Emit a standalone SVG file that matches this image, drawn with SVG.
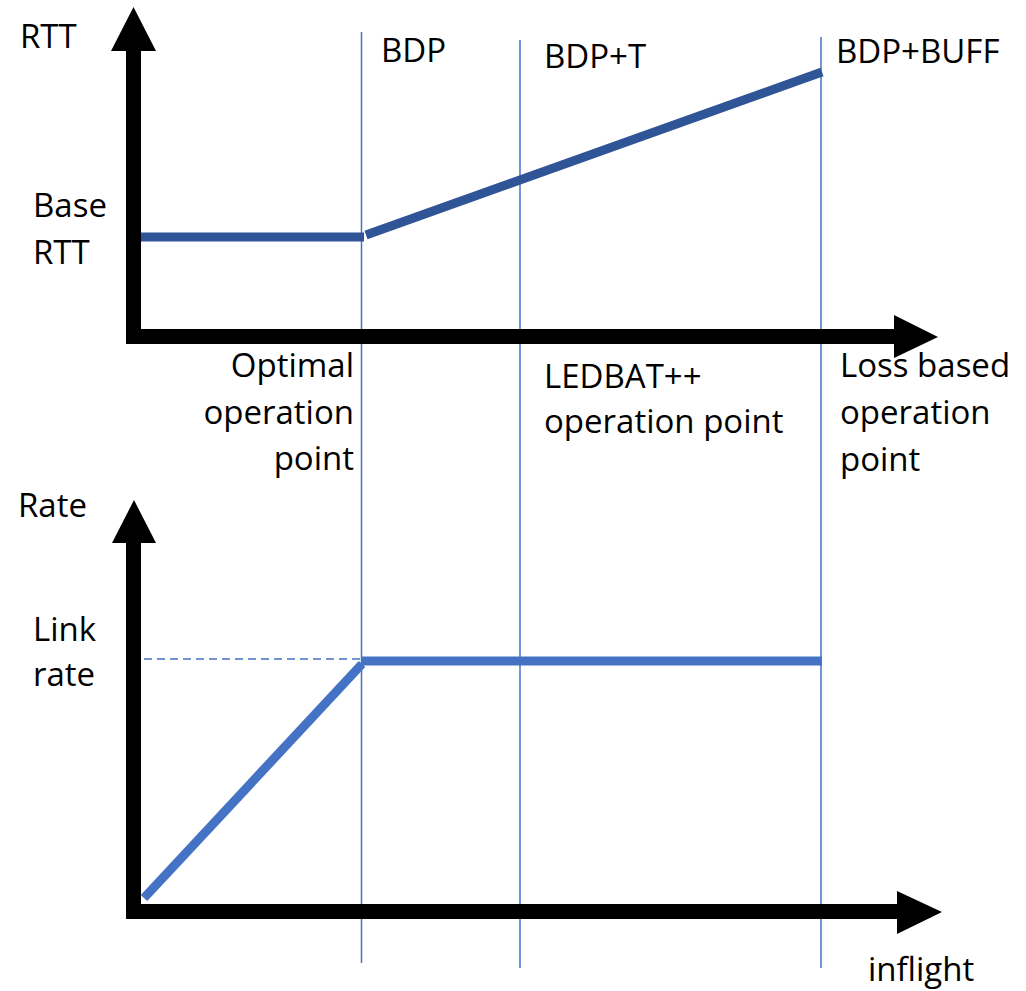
<svg xmlns="http://www.w3.org/2000/svg" width="1026" height="991" viewBox="0 0 1026 991">
<style>
.t{font-family:"Open Sans","Liberation Sans",sans-serif;font-size:33px;fill:#000}
.e{text-anchor:end}
.axis{fill:#000}
.guide{stroke:#4472C4;stroke-width:1.5;fill:none}
.rtt{stroke:#2F5597;stroke-width:9;fill:none}
.rate{stroke:#4472C4;stroke-width:9;fill:none}
</style>
<rect width="1026" height="991" fill="#fff"/>
<g id="guides">
<line class="guide" x1="361.5" y1="32" x2="361.5" y2="963"/>
<line class="guide" x1="520" y1="40" x2="520" y2="968"/>
<line class="guide" x1="821" y1="37" x2="821" y2="968"/>
</g>
<g id="top-axes">
<rect class="axis" x="126" y="50" width="15" height="294"/>
<polygon class="axis" points="133.5,7 156,51 111,51"/>
<rect class="axis" x="126" y="329" width="769" height="15"/>
<polygon class="axis" points="938,337 894,315 894,358"/>
</g>
<g id="bottom-axes">
<rect class="axis" x="126" y="542" width="15" height="377"/>
<polygon class="axis" points="134,500 156,543 112,543"/>
<rect class="axis" x="126" y="904" width="772" height="15"/>
<polygon class="axis" points="942,912 897,891 897,934"/>
</g>
<g id="connectors">
<line class="rtt" x1="141" y1="237" x2="364" y2="237"/>
<line class="rtt" x1="366" y1="235" x2="822" y2="72"/>
<line stroke="#4472C4" stroke-width="1.5" stroke-dasharray="8,5" x1="144" y1="659" x2="360" y2="659"/>
<line class="rate" x1="144" y1="898" x2="362" y2="664"/>
<line class="rate" x1="362" y1="661" x2="822" y2="661"/>
</g>
<g id="labels">
<text class="t" x="20" y="48">RTT</text>
<text class="t" x="33" y="217">Base</text>
<text class="t" x="33" y="264">RTT</text>
<text class="t" x="381" y="62">BDP</text>
<text class="t" x="544" y="68">BDP+T</text>
<text class="t" x="836" y="63">BDP+BUFF</text>
<text class="t e" x="354" y="377">Optimal</text>
<text class="t e" x="354" y="424">operation</text>
<text class="t e" x="354" y="470">point</text>
<text class="t" x="544" y="388">LEDBAT++</text>
<text class="t" x="544" y="433">operation point</text>
<text class="t" x="840" y="377">Loss based</text>
<text class="t" x="840" y="424">operation</text>
<text class="t" x="840" y="471">point</text>
<text class="t" x="18" y="517">Rate</text>
<text class="t" x="33" y="641">Link</text>
<text class="t" x="33" y="686">rate</text>
<text class="t" x="868" y="981">inflight</text>
</g>
</svg>
